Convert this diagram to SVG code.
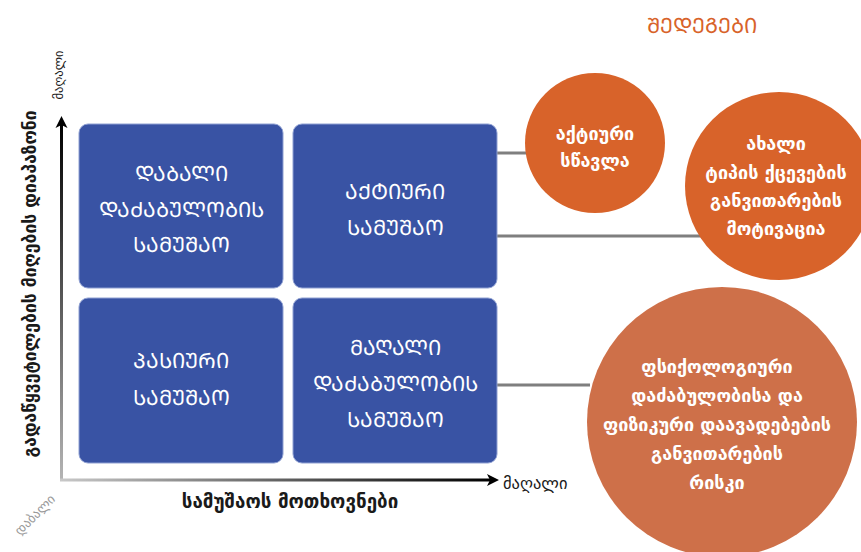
<svg xmlns="http://www.w3.org/2000/svg" width="861" height="552" viewBox="0 0 861 552">
  <style>
    .box { fill: #3953A4; stroke: #8FA0D2; stroke-width: 1; }
    .boxtxt { fill: #FFFFFF; font-family: "DejaVu Sans", "Noto Sans", sans-serif; font-size: 21px; text-anchor: middle; }
    .circ { fill: #D8632A; }
    .circ3 { fill: #CE7049; }
    .ctxt { fill: #FFFFFF; font-family: "DejaVu Sans", "Noto Sans", sans-serif; font-size: 18px; font-weight: bold; text-anchor: middle; }
    .link { stroke: #7F7F7F; stroke-width: 3; fill: none; }
    .axislbl { fill: #1A1A1A; font-family: "DejaVu Sans", "Noto Sans", sans-serif; }
  </style>
  <defs>
    <linearGradient id="gradY" x1="0" y1="1" x2="0" y2="0">
      <stop offset="0" stop-color="#B5B5B5"/>
      <stop offset="1" stop-color="#000000"/>
    </linearGradient>
    <linearGradient id="gradX" x1="0" y1="0" x2="1" y2="0">
      <stop offset="0" stop-color="#C8C8C8"/>
      <stop offset="1" stop-color="#000000"/>
    </linearGradient>
  </defs>

  <!-- axes -->
  <g id="axes">
    <rect x="60" y="124" width="3" height="357" fill="url(#gradY)"/>
    <polygon points="61.5,116 55.5,128 61.5,125 67.5,128" fill="#000"/>
    <rect x="60" y="478.5" width="431" height="3" fill="url(#gradX)"/>
    <polygon points="499,480 487,474 490,480 487,486" fill="#000"/>
    <text class="axislbl" font-size="17.5" font-weight="bold" transform="translate(36,284) rotate(-90)" text-anchor="middle">გადაწყვეტილების მიღების დიაპაზონი</text>
    <text class="axislbl" font-size="12.5" transform="translate(63,75) rotate(-90)" text-anchor="middle">მაღალი</text>
    <text class="axislbl" font-size="18.8" font-weight="bold" x="290" y="508" text-anchor="middle">სამუშაოს მოთხოვნები</text>
    <text class="axislbl" font-size="16.5" x="503" y="489">მაღალი</text>
    <text font-family="DejaVu Sans, sans-serif" font-size="13" fill="#9A9A9A" transform="translate(38,518) rotate(-45)" text-anchor="middle">დაბალი</text>
  </g>

  <!-- connectors -->
  <g id="connectors">
    <line class="link" x1="497" y1="153" x2="527" y2="153"/>
    <line class="link" x1="497" y1="236" x2="704" y2="236"/>
    <line class="link" x1="497" y1="385" x2="590" y2="385"/>
  </g>

  <!-- quadrant boxes -->
  <g id="low-strain">
    <rect class="box" x="79" y="124" width="204" height="164" rx="9"/>
    <text class="boxtxt"><tspan x="181" y="181">ᲓᲐᲑᲐᲚᲘ</tspan><tspan x="181" y="217">ᲓᲐᲫᲐᲑᲣᲚᲝᲑᲘᲡ</tspan><tspan x="181" y="252">ᲡᲐᲛᲣᲨᲐᲝ</tspan></text>
  </g>
  <g id="active-job">
    <rect class="box" x="293" y="124" width="204" height="164" rx="9"/>
    <text class="boxtxt"><tspan x="395" y="199">ᲐᲥᲢᲘᲣᲠᲘ</tspan><tspan x="395" y="235">ᲡᲐᲛᲣᲨᲐᲝ</tspan></text>
  </g>
  <g id="passive-job">
    <rect class="box" x="79" y="298" width="204" height="165" rx="9"/>
    <text class="boxtxt"><tspan x="181" y="368">ᲞᲐᲡᲘᲣᲠᲘ</tspan><tspan x="181" y="405">ᲡᲐᲛᲣᲨᲐᲝ</tspan></text>
  </g>
  <g id="high-strain">
    <rect class="box" x="293" y="298" width="204" height="165" rx="9"/>
    <text class="boxtxt"><tspan x="395" y="355">ᲛᲐᲦᲐᲚᲘ</tspan><tspan x="395" y="391">ᲓᲐᲫᲐᲑᲣᲚᲝᲑᲘᲡ</tspan><tspan x="395" y="427">ᲡᲐᲛᲣᲨᲐᲝ</tspan></text>
  </g>

  <!-- outcomes -->
  <g id="outcomes-title">
    <text x="702" y="33" font-family="DejaVu Sans, sans-serif" font-size="21" fill="#D8632A" text-anchor="middle">ᲨᲔᲓᲔᲒᲔᲑᲘ</text>
  </g>
  <g id="active-learning">
    <circle class="circ" cx="595" cy="143" r="70"/>
    <text class="ctxt"><tspan x="595" y="140">აქტიური</tspan><tspan x="595" y="167">სწავლა</tspan></text>
  </g>
  <g id="motivation">
    <circle class="circ" cx="779" cy="186" r="94"/>
    <text class="ctxt"><tspan x="776" y="150">ახალი</tspan><tspan x="776" y="179">ტიპის ქცევების</tspan><tspan x="776" y="207">განვითარების</tspan><tspan x="776" y="235">მოტივაცია</tspan></text>
  </g>
  <g id="strain-risk">
    <circle class="circ3" cx="722" cy="422" r="135"/>
    <text class="ctxt"><tspan x="717" y="373">ფსიქოლოგიური</tspan><tspan x="717" y="402">დაძაბულობისა და</tspan><tspan x="717" y="431">ფიზიკური დაავადებების</tspan><tspan x="717" y="460">განვითარების</tspan><tspan x="717" y="489">რისკი</tspan></text>
  </g>
</svg>
